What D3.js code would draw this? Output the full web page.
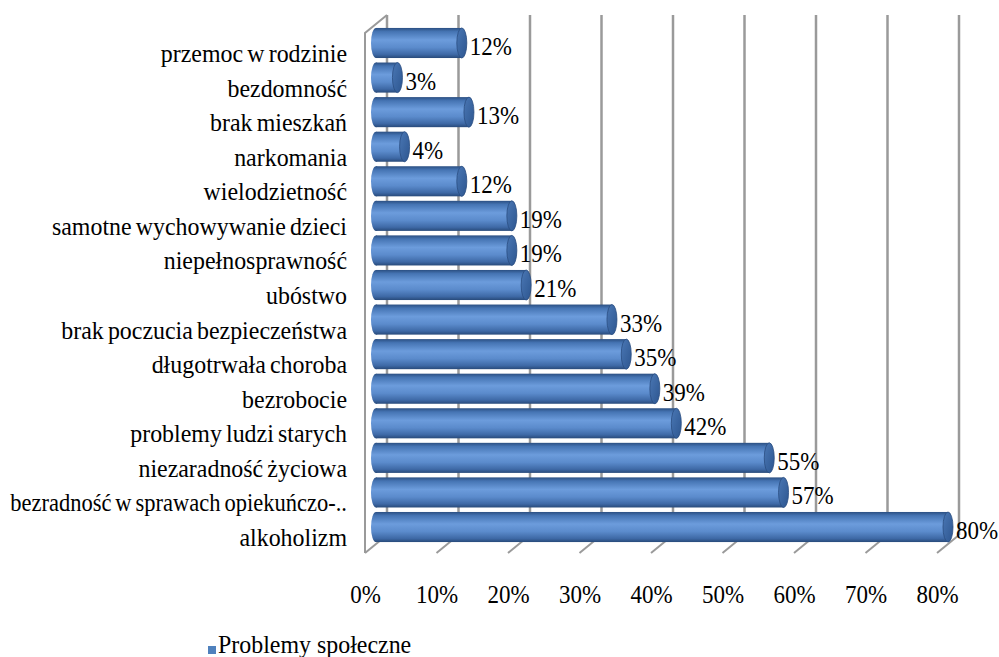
<!DOCTYPE html>
<html>
<head>
<meta charset="utf-8">
<script src="https://cdn.jsdelivr.net/npm/d3@7"></script>
</head>
<body style="margin:0;background:#fff">
<svg id="chart" width="999" height="657"></svg>
<script>
const categories = [
  "przemoc w rodzinie",
  "bezdomność",
  "brak mieszkań",
  "narkomania",
  "wielodzietność",
  "samotne wychowywanie dzieci",
  "niepełnosprawność",
  "ubóstwo",
  "brak poczucia bezpieczeństwa",
  "długotrwała choroba",
  "bezrobocie",
  "problemy ludzi starych",
  "niezaradność życiowa",
  "bezradność w sprawach opiekuńczo-..",
  "alkoholizm"
];
const values = [0.12, 0.03, 0.13, 0.04, 0.12, 0.19, 0.19, 0.21, 0.33, 0.35, 0.39, 0.42, 0.55, 0.57, 0.80];
const ticks = [0, 0.1, 0.2, 0.3, 0.4, 0.5, 0.6, 0.7, 0.8];
const seriesName = "Problemy społeczne";

const svg = d3.select("#chart");
const fmt = d3.format(".0%");
const serif = "Liberation Serif";

// 3d box: front plane and back plane offset
const depthX = 22, depthY = 18;
const floorY = 553, topY = 33;
const xFront = d3.scaleLinear().domain([0, 0.8]).range([365, 937]);
const xBack = v => xFront(v) + depthX;
const xMid = v => xFront(v) + depthX / 2;

const y = d3.scaleBand()
  .domain(categories)
  .range([25.7, 544.3])
  .paddingInner(0.13)
  .paddingOuter(0.065);

const defs = svg.append("defs");
const bodyGrad = defs.append("linearGradient")
  .attr("id", "body").attr("x1", 0).attr("y1", 0).attr("x2", 0).attr("y2", 1);
[[0, "#2b4f82"], [0.12, "#4574b3"], [0.4, "#6c9cdc"], [0.65, "#5b8bcc"], [0.88, "#3e69a6"], [1, "#284a7a"]]
  .forEach(([o, c]) => bodyGrad.append("stop").attr("offset", o).attr("stop-color", c));
const capGrad = defs.append("linearGradient")
  .attr("id", "cap").attr("x1", 0).attr("y1", 0).attr("x2", 1).attr("y2", 1);
[[0, "#4a77b4"], [1, "#2d5690"]]
  .forEach(([o, c]) => capGrad.append("stop").attr("offset", o).attr("stop-color", c));

const grid = "#9a9a9a";

// left wall edges
svg.append("path")
  .attr("d", `M${xFront(0)},${floorY}L${xFront(0)},${topY}L${xBack(0)},${topY - depthY}`)
  .attr("fill", "none").attr("stroke", grid).attr("stroke-width", 2);

// back wall gridlines
svg.append("g").selectAll("line")
  .data(ticks)
  .join("line")
  .attr("x1", d => xBack(d)).attr("x2", d => xBack(d))
  .attr("y1", topY - depthY).attr("y2", floorY - depthY)
  .attr("stroke", grid).attr("stroke-width", 2.5);

// floor gridlines
svg.append("g").selectAll("line")
  .data(ticks)
  .join("line")
  .attr("x1", d => xFront(d)).attr("y1", floorY)
  .attr("x2", d => xBack(d)).attr("y2", floorY - depthY)
  .attr("stroke", grid).attr("stroke-width", 2);

// cylinders
const rx = 5;
const bh = y.bandwidth();
const bars = svg.append("g").selectAll("g")
  .data(categories.map((c, i) => ({ c, v: values[i] })))
  .join("g")
  .attr("transform", d => `translate(0,${y(d.c)})`);

bars.append("ellipse")
  .attr("cx", xMid(0)).attr("cy", bh / 2)
  .attr("rx", rx).attr("ry", bh / 2)
  .attr("fill", "url(#body)");
bars.append("rect")
  .attr("x", xMid(0)).attr("y", 0)
  .attr("width", d => xMid(d.v) - xMid(0))
  .attr("height", bh)
  .attr("fill", "url(#body)");
bars.append("ellipse")
  .attr("cx", d => xMid(d.v)).attr("cy", bh / 2)
  .attr("rx", rx).attr("ry", bh / 2)
  .attr("fill", "url(#cap)")
  .attr("stroke", "#2a4d80").attr("stroke-width", 0.8);

// value labels
bars.append("text")
  .attr("transform", d => `translate(${xMid(d.v) + rx + 3},${bh / 2 + 12}) scale(0.92,1)`)
  .attr("font-family", serif)
  .attr("font-size", 25)
  .text(d => fmt(d.v));

// category labels, squeezed to fit left of the axis
const labelRight = 347, labelMax = 337;
svg.append("g").selectAll("text")
  .data(categories)
  .join("text")
  .attr("text-anchor", "end")
  .attr("font-family", serif)
  .attr("font-size", 26)
  .attr("word-spacing", -2)
  .text(d => d)
  .attr("transform", function (d) {
    const w = this.getComputedTextLength();
    const sx = Math.min(0.92, labelMax / w);
    return `translate(${labelRight},${y(d) + bh / 2 + 19}) scale(${sx},1)`;
  });

// value axis
const axis = svg.append("g")
  .attr("transform", "translate(0,603)")
  .call(d3.axisBottom(xFront).tickValues(ticks).tickFormat(fmt).tickSize(0))
  .attr("font-family", serif)
  .attr("font-size", 25);
axis.select(".domain").remove();
axis.selectAll("text")
  .attr("y", 0).attr("dy", 0)
  .attr("transform", "scale(0.92,1)")
  .attr("fill", "#000");

// legend
const legend = svg.append("g").attr("transform", "translate(208,646)");
legend.append("rect").attr("width", 8).attr("height", 8).attr("fill", "#4f81bd");
legend.append("text")
  .attr("transform", "translate(10,7) scale(0.92,1)")
  .attr("font-family", serif)
  .attr("font-size", 26)
  .text(seriesName);
</script>
</body>
</html>
